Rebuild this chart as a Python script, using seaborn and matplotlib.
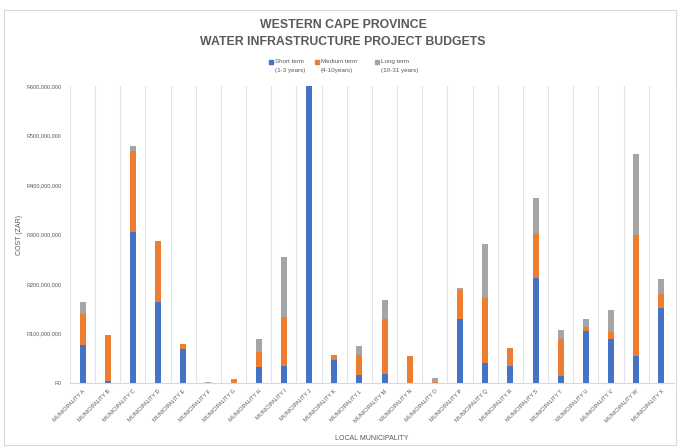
import matplotlib
matplotlib.use("Agg")
import matplotlib.pyplot as plt
import seaborn as sns
import numpy as np
import pandas as pd
from matplotlib.patches import Rectangle
from matplotlib.lines import Line2D
from matplotlib.ticker import FuncFormatter

municipalities = ["MUNICIPALITY " + c for c in "ABCDEFGHIJKLMNOPQRSTUVWX"]
# values in millions of Rand
short_term = [77, 4, 306, 164, 69, 0, 0, 32, 34, 600, 47, 16, 19, 0, 0, 129, 40, 34, 213, 15, 106, 89, 54, 152]
medium_term = [63, 92, 162, 123, 10, 0, 7, 31, 99, 0, 10, 41, 110, 55, 2, 58, 132, 37, 91, 74, 8, 15, 244, 27]
long_term = [23, 0, 10, 0, 0, 2, 2, 26, 121, 0, 0, 18, 38, 0, 9, 5, 108, 0, 70, 18, 16, 44, 165, 32]
series_names = ["Short term\n(1-3 years)", "Medium term\n(4-10years)", "Long term\n(10-31 years)"]
y_ticks = [0, 100, 200, 300, 400, 500, 600]

colors = ["#4472C4", "#ED7D31", "#A5A5A5"]

s = np.array(short_term, dtype=float) * 1e6
m = np.array(medium_term, dtype=float) * 1e6
l = np.array(long_term, dtype=float) * 1e6
df = pd.DataFrame({
    "muni": municipalities,
    "total": s + m + l,
    "sm": s + m,
    "s": s,
})

sns.set_theme(style="white")
plt.rcParams["font.family"] = ["Liberation Sans", "DejaVu Sans"]

W, H = 679, 448
fig = plt.figure(figsize=(W / 100, H / 100), dpi=100)
fig.patch.set_facecolor("white")
# chart border
fig.add_artist(Rectangle((4 / W, 3 / H), 672 / W, 435 / H, transform=fig.transFigure,
                         fill=False, edgecolor="#D9D9D9", linewidth=0.8))

ax = fig.add_axes([70 / W, (H - 383) / H, 604 / W, (383 - 86) / H])

for col, c in zip(["total", "sm", "s"], [colors[2], colors[1], colors[0]]):
    sns.barplot(data=df, x="muni", y=col, color=c, width=0.24, ax=ax,
                saturation=1, linewidth=0, errorbar=None)

ax.set_ylim(0, 600e6)
ax.set_xlim(-0.5, len(municipalities) - 0.5)
ax.set_yticks([v * 1e6 for v in y_ticks])
ax.yaxis.set_major_formatter(FuncFormatter(lambda v, p: f"R{int(round(v)):,}"))
ax.set_xticks(range(len(municipalities)))
ax.set_xticklabels(municipalities, rotation=45, ha="right", rotation_mode="anchor")
ax.set_xticks(np.arange(len(municipalities) + 1) - 0.5, minor=True)
ax.grid(False)
ax.xaxis.grid(True, which="minor", color="#E3E3E3", linewidth=0.8)
ax.tick_params(axis="both", which="both", length=0, labelsize=4, colors="#595959")
ax.tick_params(axis="y", pad=6)
ax.tick_params(axis="x", pad=4)
for sp in ["top", "right", "left"]:
    ax.spines[sp].set_visible(False)
ax.spines["bottom"].set_color("#D9D9D9")
ax.spines["bottom"].set_linewidth(0.8)

ax.set_xlabel("LOCAL MUNICIPALITY", fontsize=5, color="#595959")
ax.set_ylabel("COST (ZAR)", fontsize=5, color="#595959")
ax.yaxis.set_label_coords(-0.078, 0.5)
ax.xaxis.set_label_coords(0.5, -0.175)

fig.text(343 / W, 1 - 25.5 / H, "WESTERN CAPE PROVINCE", ha="center", va="center",
         fontsize=8.8, fontweight="bold", color="#595959")
fig.text(343 / W, 1 - 42 / H, "WATER INFRASTRUCTURE PROJECT BUDGETS", ha="center", va="center",
         fontsize=8.8, fontweight="bold", color="#595959")

# legend (marker aligned with the first line of each two-line label)
legend_marker_x = [270.5, 316.5, 376.5]
for xm, name, c in zip(legend_marker_x, series_names, colors):
    fig.add_artist(Line2D([xm / W], [1 - 61.7 / H], transform=fig.transFigure, marker="s",
                          linestyle="none", markersize=2.6, markerfacecolor=c, markeredgecolor=c))
    fig.text((xm + 4.5) / W, 1 - 58.5 / H, name, ha="left", va="top", fontsize=4.5,
             color="#595959", linespacing=2.0)

fig.savefig("out.png", dpi=100, facecolor="white")
